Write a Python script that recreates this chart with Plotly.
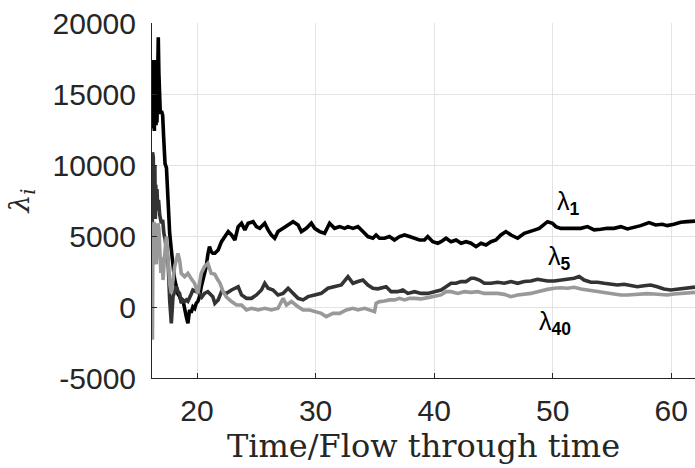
import plotly.graph_objects as go

# ---- data ----
t_l1 = [16.22, 16.25, 16.28, 16.31, 16.34, 16.37, 16.40, 16.43, 16.46, 16.50, 16.54, 16.58,
        16.62, 16.66, 16.70, 16.73, 16.78, 16.84, 16.90, 17.00, 17.10, 17.18, 17.30, 17.42,
        17.50, 17.55, 17.69, 17.83, 17.97, 18.10, 18.25, 18.40, 18.53, 18.70, 18.81, 18.95,
        19.09, 19.23, 19.37, 19.50, 19.65, 19.80, 19.93, 20.07, 20.21, 20.35, 20.49, 20.63,
        20.77, 20.91, 21.05, 21.19, 21.33, 21.50, 21.78, 22.06, 22.35, 22.63, 22.91, 23.19,
        23.47, 23.75, 24.03, 24.31, 24.73, 25.01, 25.29, 25.71, 25.99, 26.27, 26.55, 26.83,
        27.26, 27.68, 28.10, 28.52, 28.80, 29.22, 29.64, 29.92, 30.34, 30.76, 31.18, 31.60,
        32.03, 32.45, 32.73, 33.15, 33.57, 33.99, 34.41, 34.83, 35.10, 35.39, 35.81, 36.23,
        36.65, 37.08, 37.50, 37.92, 38.34, 38.76, 39.18, 39.46, 39.88, 40.30, 40.58, 41.00,
        41.42, 41.85, 42.27, 42.69, 43.11, 43.53, 43.95, 44.37, 44.79, 45.21, 45.63, 46.05,
        46.48, 47.04, 47.60, 48.16, 48.50, 48.86, 49.28, 49.56, 49.98, 50.26, 50.68, 51.25,
        51.81, 52.37, 52.93, 53.49, 54.05, 54.61, 55.17, 55.74, 56.30, 56.86, 57.42, 58.12,
        58.68, 59.24, 59.66, 60.22, 60.79, 61.35, 61.85, 62.00]
l1 = [13000, 17300, 12600, 17400, 13200, 17200, 12400, 17400, 13500, 17300, 12800, 15500,
      13000, 16000, 14500, 19000, 16500, 14000, 13600, 13800, 13500, 12000, 10100, 9800,
      8500, 7070, 5190, 4020, 2840, 2000, 1430, 900, 730, 300, 490, -200,
      -680, -1150, -210, -400, 20, -100, 260, 400, 730, 1400, 1900, 2500,
      2840, 3700, 4250, 3900, 3780, 3780, 4020, 4600, 4960, 5310, 5070, 4720,
      5660, 5900, 5430, 5900, 6010, 5660, 5540, 5900, 5430, 5070, 4840, 5310,
      5540, 5780, 6010, 5780, 5310, 5540, 5900, 5540, 5310, 5190, 5900, 5540,
      5660, 5540, 5660, 5540, 5660, 5310, 4960, 4840, 5070, 4840, 4840, 4960,
      4720, 4960, 5070, 4960, 4840, 4720, 4720, 4960, 4600, 4490, 4600, 4840,
      4600, 4720, 4490, 4600, 4490, 4250, 4490, 4370, 4600, 4720, 5070, 5310,
      5070, 4840, 5190, 5310, 5430, 5540, 5780, 6010, 5900, 5660, 5540, 5540,
      5590, 5540, 5660, 5430, 5470, 5540, 5540, 5660, 5500, 5610, 5730, 5940,
      5780, 5830, 5730, 5830, 5970, 6010, 6080, 6050]

t_l5 = [16.22, 16.25, 16.28, 16.31, 16.34, 16.37, 16.40, 16.44, 16.48, 16.52, 16.56, 16.62,
        16.68, 16.75, 16.85, 16.99, 17.10, 17.20, 17.30, 17.41, 17.55, 17.69, 17.83, 17.97,
        18.10, 18.25, 18.40, 18.53, 18.67, 18.80, 18.95, 19.10, 19.23, 19.37, 19.50, 19.65,
        19.93, 20.21, 20.40, 20.63, 20.91, 21.10, 21.33, 21.50, 21.78, 22.06, 22.48, 22.91,
        23.19, 23.47, 23.75, 24.17, 24.59, 25.01, 25.43, 25.71, 25.99, 26.41, 26.83, 27.26,
        27.68, 28.10, 28.52, 28.94, 29.36, 29.92, 30.48, 31.04, 31.60, 32.17, 32.73, 33.15,
        33.57, 33.99, 34.41, 34.83, 35.25, 35.53, 35.95, 36.37, 36.93, 37.36, 37.78, 38.34,
        38.90, 39.46, 40.02, 40.58, 41.00, 41.42, 41.85, 42.27, 42.69, 43.11, 43.39, 43.81,
        44.23, 44.79, 45.35, 45.91, 46.48, 47.04, 47.60, 48.16, 48.72, 49.00, 49.56, 50.12,
        50.68, 51.25, 51.81, 52.23, 52.65, 53.21, 53.77, 54.33, 54.89, 55.46, 56.02, 56.58,
        57.14, 57.70, 58.26, 58.82, 59.38, 59.94, 60.51, 61.07, 61.85, 62.00]
l5 = [5000, 10900, 7500, 10500, 6500, 9800, 7000, 10000, 6200, 8600, 6800, 8300,
      7000, 7540, 6500, 5900, 6130, 5200, 4800, 4020, 3310, 490, -1150, 730,
      1100, 1430, 1100, 960, 260, 500, 380, 500, 400, 730, 900, 1200,
      1080, 960, 700, 960, 1080, 900, 730, 260, 500, 1080, 960, 1200,
      1320, 1430, 850, 610, 610, 850, 1200, 1670, 1320, 1200, 850, 960,
      1320, 960, 610, 500, 730, 850, 960, 1320, 1430, 1550, 2140, 1670,
      1790, 1900, 1550, 1320, 1280, 1320, 1430, 1080, 1080, 1200, 960, 1080,
      960, 960, 1080, 1200, 1430, 1670, 1670, 1790, 1790, 2020, 2020, 1900,
      1670, 1670, 1740, 1670, 1790, 1670, 1790, 1830, 1950, 1900, 1830, 1830,
      1900, 1950, 2020, 2140, 1900, 1740, 1740, 1670, 1600, 1550, 1600, 1500,
      1430, 1500, 1550, 1430, 1270, 1200, 1270, 1320, 1390, 1400]

t_l40 = [16.24, 16.28, 16.32, 16.38, 16.45, 16.50, 16.56, 16.62, 16.70, 16.78, 16.87, 16.95,
         17.05, 17.13, 17.25, 17.41, 17.55, 17.69, 17.83, 17.97, 18.11, 18.25, 18.39, 18.53,
         18.67, 18.95, 19.23, 19.50, 19.79, 20.07, 20.21, 20.35, 20.63, 20.91, 21.19, 21.50,
         21.76, 21.92, 22.20, 22.48, 22.91, 23.33, 23.75, 24.17, 24.59, 25.15, 25.71, 26.27,
         26.83, 27.26, 27.54, 27.96, 28.52, 28.94, 29.50, 29.92, 30.48, 30.90, 31.46, 32.03,
         32.59, 33.15, 33.57, 34.13, 34.69, 34.97, 35.11, 35.39, 35.81, 36.23, 36.65, 37.08,
         37.50, 37.92, 38.34, 38.90, 39.46, 40.02, 40.58, 41.00, 41.42, 41.99, 42.55, 43.11,
         43.67, 44.23, 44.79, 45.35, 45.91, 46.48, 47.04, 47.60, 48.16, 48.72, 49.00, 49.56,
         50.12, 50.68, 51.25, 51.81, 52.37, 52.93, 53.49, 54.05, 54.61, 55.17, 55.74, 56.30,
         56.86, 57.42, 57.98, 58.54, 59.10, 59.66, 60.22, 60.79, 61.35, 61.85, 62.00]
l40 = [-2300, 5900, 4500, 6000, 5000, 4020, 3000, 4500, 5900, 5500, 3000, 2400,
       3500, 1900, 3500, 4960, 3500, 1670, 960, 2000, 2840, 3300, 3780, 3300,
       2370, 2140, 2370, 2000, 1670, 960, 1600, 2370, 2840, 3080, 2370, 2300,
       1900, 1700, 1080, 700, 380, 140, 140, -210, -90, -210, -90, -210,
       -90, 610, 140, 380, 20, -210, -210, -330, -450, -680, -450, -450,
       -210, -90, -210, -90, -210, -330, 260, 380, 420, 500, 500, 610,
       500, 610, 610, 570, 660, 730, 850, 1080, 1080, 960, 1080, 1030,
       1080, 960, 960, 960, 890, 730, 850, 890, 960, 1080, 1150, 1240,
       1320, 1360, 1320, 1390, 1270, 1200, 1080, 1010, 960, 890, 850, 850,
       890, 890, 940, 920, 890, 850, 920, 940, 960, 1030, 1030]

x_ticks = [20, 30, 40, 50, 60]
x_ticktext = ["20", "30", "40", "50", "60"]
y_ticks = [-5000, 0, 5000, 10000, 15000, 20000]
y_ticktext = ["-5000", "0", "5000", "10000", "15000", "20000"]
series_names = ["λ<sub>1</sub>", "λ<sub>5</sub>", "λ<sub>40</sub>"]
line_colors = ["#000000", "#333333", "#999999"]

fig = go.Figure()
for t, v, name, c in [(t_l1, l1, series_names[0], line_colors[0]),
                      (t_l5, l5, series_names[1], line_colors[1]),
                      (t_l40, l40, series_names[2], line_colors[2])]:
    fig.add_trace(go.Scatter(x=t, y=v, mode="lines", name=name,
                             line=dict(color=c, width=3.6), showlegend=False))

label_font = dict(family="Liberation Sans, Arial, sans-serif", size=25, color="#000000")
for txt, x, y in [("λ<sub><b>1</b></sub>", 51.3, 7300),
                  ("λ<sub><b>5</b></sub>", 50.6, 3450),
                  ("λ<sub><b>40</b></sub>", 50.2, -1150)]:
    fig.add_annotation(x=x, y=y, xref="x", yref="y", text=txt, showarrow=False,
                       font=label_font, xanchor="center", yanchor="middle")

axis_common = dict(
    showgrid=True, gridcolor="#e3e3e3", gridwidth=1,
    showline=True, linecolor="#262626", linewidth=1,
    ticks="inside", ticklen=5, tickcolor="#262626", tickwidth=1,
    zeroline=False, mirror=False,
    tickfont=dict(family="Liberation Sans, Arial, sans-serif", size=30, color="#262626"),
)

fig.update_layout(
    width=695, height=468,
    margin=dict(l=152, r=0, t=23, b=90),
    paper_bgcolor="white", plot_bgcolor="white",
    xaxis=dict(range=[16.2, 62.0], tickvals=x_ticks, ticktext=x_ticktext,
               ticklabelstandoff=6, **axis_common,
               title=dict(text="Time/Flow through time", standoff=4,
                          font=dict(family="DejaVu Serif, serif", size=32, color="#262626"))),
    yaxis=dict(range=[-5000, 20000], tickvals=y_ticks, ticktext=y_ticktext,
               ticklabelstandoff=9, **axis_common,
               title=dict(text="<i>λ<sub>i</sub></i>", standoff=14,
                          font=dict(family="DejaVu Serif, serif", size=28, color="#262626"))),
)

fig.write_html("out.html")
